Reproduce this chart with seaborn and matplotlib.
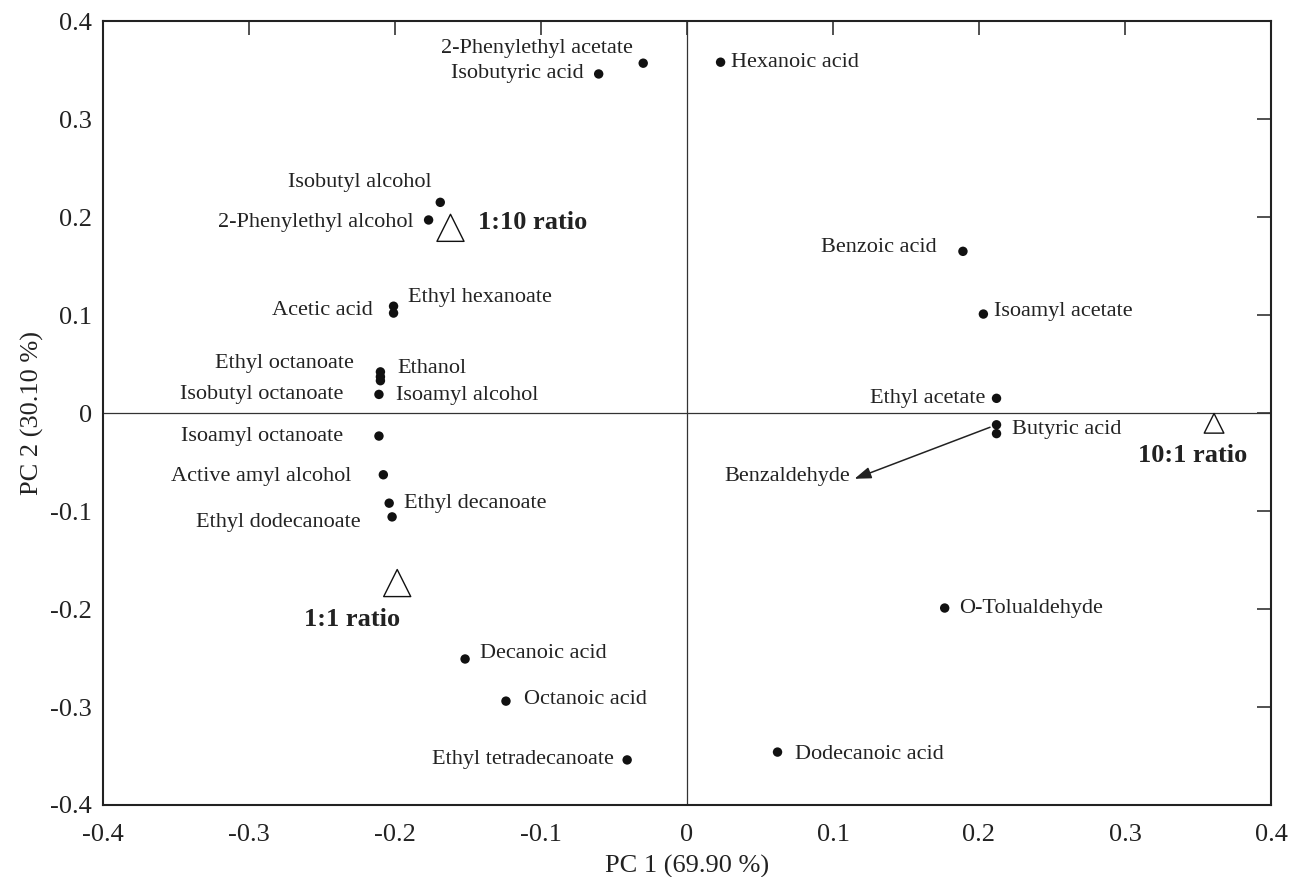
import pandas as pd
import matplotlib
matplotlib.use("Agg")
import matplotlib.pyplot as plt
import seaborn as sns

# PCA loadings
compounds = ["2-Phenylethyl acetate", "Isobutyric acid", "Hexanoic acid",
             "Isobutyl alcohol", "2-Phenylethyl alcohol", "Ethyl hexanoate",
             "Acetic acid", "Ethyl octanoate", "Ethanol", "Isoamyl alcohol",
             "Isobutyl octanoate", "Isoamyl octanoate", "Active amyl alcohol",
             "Ethyl decanoate", "Ethyl dodecanoate", "Decanoic acid",
             "Octanoic acid", "Ethyl tetradecanoate", "Dodecanoic acid",
             "Benzoic acid", "Isoamyl acetate", "Ethyl acetate",
             "Butyric acid", "Benzaldehyde", "O-Tolualdehyde"]
pc1 = [-0.030, -0.0605, 0.023,
       -0.169, -0.177, -0.201,
       -0.201, -0.210, -0.210, -0.210,
       -0.211, -0.211, -0.208,
       -0.204, -0.202, -0.152,
       -0.124, -0.041, 0.062,
       0.189, 0.203, 0.212,
       0.212, 0.212, 0.1765]
pc2 = [0.357, 0.346, 0.358,
       0.215, 0.197, 0.109,
       0.102, 0.042, 0.037, 0.033,
       0.019, -0.0235, -0.063,
       -0.092, -0.106, -0.251,
       -0.294, -0.354, -0.346,
       0.165, 0.101, 0.015,
       -0.012, -0.021, -0.199]

# sample scores
ratios = ["1:10 ratio", "1:1 ratio", "10:1 ratio"]
ratio_pc1 = [-0.162, -0.1985, 0.361]
ratio_pc2 = [0.189, -0.1735, -0.0105]
ratio_kind = ["big", "big", "small"]

tick_vals = [-0.4, -0.3, -0.2, -0.1, 0, 0.1, 0.2, 0.3, 0.4]
tick_labels = ["-0.4", "-0.3", "-0.2", "-0.1", "0", "0.1", "0.2", "0.3", "0.4"]

# label placement (pixel offsets from the point, horizontal alignment)
label_pos = {
    "2-Phenylethyl acetate": (-10, 15, "right"),
    "Isobutyric acid": (-15, 0, "right"),
    "Hexanoic acid": (10, 0, "left"),
    "Isobutyl alcohol": (-9, 20, "right"),
    "2-Phenylethyl alcohol": (-15, -3, "right"),
    "Ethyl hexanoate": (14, 9, "left"),
    "Acetic acid": (-21, 3, "right"),
    "Ethyl octanoate": (-27, 8, "right"),
    "Ethanol": (17, 8, "left"),
    "Isoamyl alcohol": (16, -15, "left"),
    "Isobutyl octanoate": (-36, 0, "right"),
    "Isoamyl octanoate": (-36, 0, "right"),
    "Active amyl alcohol": (-32, -2, "right"),
    "Ethyl decanoate": (15, 0, "left"),
    "Ethyl dodecanoate": (-31, -6, "right"),
    "Decanoic acid": (15, 5, "left"),
    "Octanoic acid": (18, 2, "left"),
    "Ethyl tetradecanoate": (-13, 0, "right"),
    "Dodecanoic acid": (17, -2, "left"),
    "Benzoic acid": (-26, 4, "right"),
    "Isoamyl acetate": (11, 3, "left"),
    "Ethyl acetate": (-11, 0, "right"),
    "Butyric acid": (15, -5, "left"),
    "Benzaldehyde": (-146, -43, "right"),
    "O-Tolualdehyde": (14, 0, "left"),
}
ratio_pos = {
    "1:10 ratio": (28, 5, "left"),
    "1:1 ratio": (-45, -36, "center"),
    "10:1 ratio": (-21, -32, "center"),
}

df = pd.DataFrame({"name": compounds, "PC1": pc1, "PC2": pc2})
rdf = pd.DataFrame({"name": ratios, "PC1": ratio_pc1, "PC2": ratio_pc2, "kind": ratio_kind})

sns.set_style("white")
plt.rcParams["font.family"] = ["Liberation Serif", "DejaVu Serif"]
plt.rcParams["axes.unicode_minus"] = False

fig = plt.figure(figsize=(12.91, 8.77), dpi=100)
ax = fig.add_axes([0.0798, 0.0821, 0.9047, 0.8939])

ax.axhline(0, color="#333333", lw=0.9, zorder=1)
ax.axvline(0, color="#333333", lw=0.9, zorder=1)

sns.scatterplot(data=df, x="PC1", y="PC2", ax=ax, color="#111111", s=46,
                edgecolor="none", zorder=3, legend=False)
sns.scatterplot(data=rdf, x="PC1", y="PC2", ax=ax, marker="^", size="kind",
                sizes={"big": 380, "small": 200}, facecolor="white",
                edgecolor="#111111", linewidth=1.0, zorder=3, legend=False)

for name, x, y in zip(compounds, pc1, pc2):
    dx, dy, ha = label_pos[name]
    ax.annotate(name, (x, y), xytext=(dx, dy), textcoords="offset pixels",
                ha=ha, va="center", fontsize=16, color="#222222")

# arrow from the Butyric acid / Benzaldehyde pair to the Benzaldehyde label
bi = compounds.index("Butyric acid")
ax.annotate("", (pc1[bi], pc2[bi]), xytext=(-142, -54),
            textcoords="offset pixels",
            arrowprops=dict(arrowstyle="<|-,head_length=1.0,head_width=0.35",
                            color="#222222", lw=1.1, shrinkA=0, shrinkB=5))

for name, x, y in zip(ratios, ratio_pc1, ratio_pc2):
    dx, dy, ha = ratio_pos[name]
    ax.annotate(name, (x, y), xytext=(dx, dy), textcoords="offset pixels",
                ha=ha, va="center", fontsize=19, fontweight="bold",
                color="#222222")

ax.set_xlim(-0.4, 0.4)
ax.set_ylim(-0.4, 0.4)
ax.set_xticks(tick_vals)
ax.set_xticklabels(tick_labels)
ax.set_yticks(tick_vals)
ax.set_yticklabels(tick_labels)
ax.tick_params(direction="in", top=True, right=True, length=10, width=1.1,
               labelsize=19, colors="#222222")
ax.tick_params(axis="x", pad=14)
ax.tick_params(axis="y", pad=8)
for sp in ax.spines.values():
    sp.set_color("#222222")
    sp.set_linewidth(1.5)

ax.set_xlabel("PC 1 (69.90 %)", fontsize=19, color="#222222", labelpad=6)
ax.set_ylabel("PC 2 (30.10 %)", fontsize=19, color="#222222", labelpad=4)

fig.savefig("out.png", dpi=100)
